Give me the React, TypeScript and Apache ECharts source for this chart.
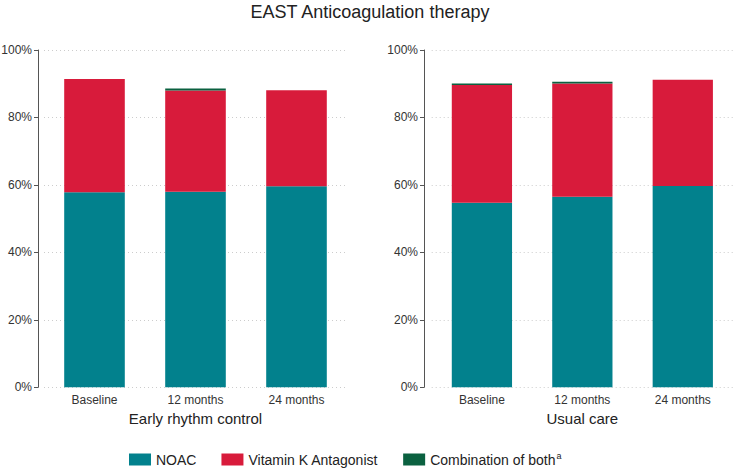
import React, { useEffect, useRef } from "react";
import * as echarts from "echarts";

const categories = ["Baseline", "12 months", "24 months"];
const yTicks = [0, 20, 40, 60, 80, 100];
const panelTitles = ["Early rhythm control", "Usual care"];
const seriesNames = ["NOAC", "Vitamin K Antagonist", "Combination of both"];

// Early rhythm control
const ercNOAC = [57.8, 58.0, 59.6];
const ercVKA = [33.6, 30.0, 28.5];
const ercBoth = [0, 0.6, 0];

// Usual care
const ucNOAC = [54.7, 56.5, 59.7];
const ucVKA = [34.9, 33.6, 31.5];
const ucBoth = [0.5, 0.5, 0];

const colors = ["#02818D", "#D81B3B", "#0B6140"];
const FONT = "'Liberation Sans', Arial, sans-serif";

export default function App() {
  const ref = useRef<HTMLDivElement>(null);
  useEffect(() => {
    if (!ref.current) return;
    const chart = echarts.init(ref.current, undefined, { renderer: "svg" });
    const grids = [
      { left: 44, right: 393, top: 50, bottom: 84.7, outerBoundsMode: "none", containLabel: false },
      { left: 431.7, right: 7, top: 50, bottom: 84.7, outerBoundsMode: "none", containLabel: false },
    ];
    const panels = [
      [ercNOAC, ercVKA, ercBoth],
      [ucNOAC, ucVKA, ucBoth],
    ];
    const series: any[] = [];
    panels.forEach((p, gi) => {
      p.forEach((vals, si) => {
        series.push({
          type: "bar",
          name: seriesNames[si],
          xAxisIndex: gi,
          yAxisIndex: gi,
          stack: "s" + gi,
          barWidth: "60%",
          data: vals,
          itemStyle: { color: colors[si] },
        });
      });
    });
    const option: any = {
      animation: false,
      textStyle: { fontFamily: FONT },
      title: {
        text: "EAST Anticoagulation therapy",
        left: "center",
        top: -2,
        textStyle: { fontSize: 18, fontWeight: "normal", color: "#222", fontFamily: FONT },
      },
      legend: {
        left: 124,
        top: 446,
        itemWidth: 22,
        itemHeight: 12,
        itemGap: 25,
        icon: "rect",
        data: seriesNames,
        formatter: (n: string) => (n === "Combination of both" ? n + "{sup|a}" : n),
        textStyle: {
          fontSize: 14,
          color: "#222",
          fontFamily: FONT,
          rich: { sup: { fontSize: 9, verticalAlign: "top", padding: [0, 0, 8, 1], color: "#222" } },
        },
      },
      grid: grids,
      xAxis: grids.map((_, gi) => ({
        type: "category",
        gridIndex: gi,
        data: categories,
        axisLine: { show: false },
        axisTick: { show: false },
        axisLabel: { fontSize: 12, color: "#333", margin: 7 },
        name: panelTitles[gi],
        nameLocation: "middle",
        nameGap: 22,
        nameTextStyle: { fontSize: 15, color: "#222" },
      })),
      yAxis: grids.map((_, gi) => ({
        type: "value",
        gridIndex: gi,
        min: 0,
        max: 100,
        interval: 20,
        offset: gi === 0 ? 6 : 7.7,
        axisLine: { show: true, lineStyle: { color: "#555", width: 1 } },
        axisTick: { show: true, length: 4, lineStyle: { color: "#555" } },
        axisLabel: { fontSize: 12, color: "#333", margin: 6, formatter: (v: number) => (yTicks.includes(v) ? v + "%" : "") },
        splitLine: { show: true, lineStyle: { color: "#ccc", type: [1, 3], width: 1 } },
      })),
      series,
    };
    chart.setOption(option);
    return () => chart.dispose();
  }, []);
  return <div ref={ref} style={{ width: 740, height: 472, position: "absolute", left: 0, top: 0 }} />;
}
